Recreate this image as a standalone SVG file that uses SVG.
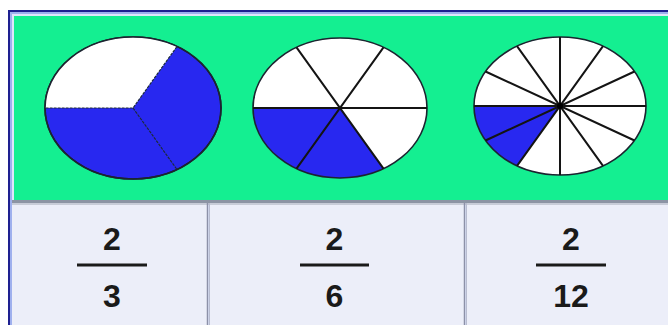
<svg xmlns="http://www.w3.org/2000/svg" width="668" height="325" viewBox="0 0 668 325">
<style>
.pie{stroke:#1c2430;stroke-width:1.6}
.sp{stroke:#141414;stroke-width:2;fill:none}
.sp1{stroke:#1c2a3a;stroke-width:1.2;fill:none;stroke-dasharray:3 1}
.num{font-family:"Liberation Sans",Arial,sans-serif;font-size:32px;font-weight:bold;fill:#1a1a1a;text-anchor:middle}
.bar{stroke:#1a1a1a;stroke-width:3}
.cell{fill:#eceef9}
.div{stroke:#8c90a8;stroke-width:1.5}
</style>
<rect width="668" height="325" fill="#ffffff"/>
<g id="frame">
<rect x="8" y="10" width="670" height="330" fill="#1e2090"/>
<rect x="10" y="12" width="670" height="330" fill="#9fb0ee"/>
<rect x="12" y="14" width="670" height="330" fill="#dfe6fb"/>
<rect x="14" y="16" width="670" height="184" fill="#14ef91"/>
<rect x="12" y="200" width="660" height="3" fill="#8c94a4"/>
<rect x="12" y="203" width="660" height="2" fill="#c8ccd8"/>
<rect x="12" y="205" width="195" height="120" class="cell"/>
<rect x="210" y="205" width="254" height="120" class="cell"/>
<rect x="467" y="205" width="205" height="120" class="cell"/>
<line x1="207.5" y1="203" x2="207.5" y2="325" class="div"/>
<line x1="209.5" y1="203" x2="209.5" y2="325" stroke="#b8bcd0" stroke-width="1"/>
<line x1="464.5" y1="203" x2="464.5" y2="325" class="div"/>
<line x1="466.5" y1="203" x2="466.5" y2="325" stroke="#b8bcd0" stroke-width="1"/>
</g>
<g id="pie-thirds">
<ellipse cx="133" cy="108" rx="88" ry="71" fill="#2828f0" class="pie"/>
<path d="M133,108 L177,46.5 A88,71 0 0 0 45,108 Z" fill="#ffffff"/>
<ellipse cx="133" cy="108" rx="88" ry="71" fill="none" class="pie"/>
<path d="M177,46.5 L133,108 L45,108 M133,108 L177,169.5" class="sp1"/>
</g>
<g id="pie-sixths">
<ellipse cx="340" cy="108" rx="87" ry="70" fill="#ffffff"/>
<path d="M340,108 L253,108 A87,70 0 0 0 383.5,168.6 Z" fill="#2828f0"/>
<ellipse cx="340" cy="108" rx="87" ry="70" fill="none" class="pie"/>
<path d="M253,108 L427,108 M383.5,47.4 L296.5,168.6 M296.5,47.4 L383.5,168.6" class="sp"/>
</g>
<g id="pie-twelfths">
<ellipse cx="560" cy="106" rx="86" ry="69" fill="#ffffff"/>
<path d="M560,106 L474,106 A86,69 0 0 0 517,165.8 Z" fill="#2828f0"/>
<ellipse cx="560" cy="106" rx="86" ry="69" fill="none" class="pie"/>
<path d="M474,106 L646,106 M634.5,71.5 L485.5,140.5 M603,46.2 L517,165.8 M560,37 L560,175 M517,46.2 L603,165.8 M485.5,71.5 L634.5,140.5" class="sp"/>
<circle cx="560" cy="106" r="3" fill="#000"/>
</g>
<g id="frac-2-3">
<text x="112" y="250" class="num">2</text>
<line x1="77" y1="265" x2="147" y2="265" class="bar"/>
<text x="112" y="307" class="num">3</text>
</g>
<g id="frac-2-6">
<text x="334.5" y="250" class="num">2</text>
<line x1="300" y1="265" x2="369" y2="265" class="bar"/>
<text x="334.5" y="307" class="num">6</text>
</g>
<g id="frac-2-12">
<text x="571" y="250" class="num">2</text>
<line x1="536" y1="265" x2="606" y2="265" class="bar"/>
<text x="571" y="307" class="num">12</text>
</g>
<g id="connectors"/>
</svg>
